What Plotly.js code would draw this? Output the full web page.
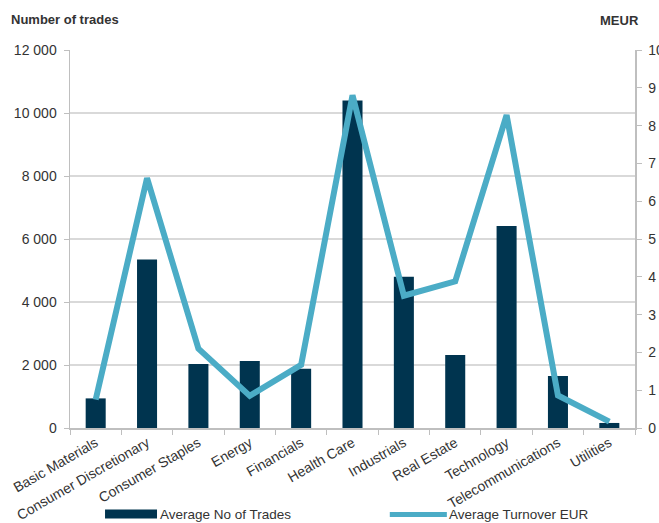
<!DOCTYPE html>
<html>
<head>
<meta charset="utf-8">
<script src="https://cdn.plot.ly/plotly-3.0.1.min.js"></script>
<style>html,body{margin:0;padding:0;background:#fff;}#chart{width:659px;height:523px;}</style>
</head>
<body>
<div id="chart"></div>
<script>
const categories = ["Basic Materials","Consumer Discretionary","Consumer Staples","Energy","Financials","Health Care","Industrials","Real Estate","Technology","Telecommunications","Utilities"];
const avgTrades = [940, 5350, 2030, 2130, 1880, 10400, 4800, 2320, 6410, 1650, 160];
const avgTurnover = [0.75, 6.61, 2.10, 0.85, 1.67, 8.80, 3.50, 3.88, 8.28, 0.86, 0.17];
const leftTicks = [0, 2000, 4000, 6000, 8000, 10000, 12000];
const rightTicks = [0,1,2,3,4,5,6,7,8,9,10];
const seriesNames = ["Average No of Trades", "Average Turnover EUR"];

const barColor = "#00344F";
const lineColor = "#4BACC6";
const font = {family: "Liberation Sans, Arial, sans-serif", size: 13, color: "#333333"};
const data = [
  {type: "bar", x: categories, y: avgTrades, name: seriesNames[0],
   marker: {color: barColor, line: {width: 0}}, yaxis: "y", showlegend: false},
  {type: "scatter", mode: "lines", x: categories, y: avgTurnover, name: seriesNames[1],
   line: {color: lineColor, width: 6}, yaxis: "y2", showlegend: false}
];
const legendFont = {family: font.family, size: 13.5, color: "#333333"};
const layout = {
  width: 659, height: 523,
  margin: {l: 70, r: 24, t: 50, b: 95, autoexpand: false},
  paper_bgcolor: "#ffffff", plot_bgcolor: "#ffffff",
  font: font,
  separators: ", ",
  bargap: 0.61,
  showlegend: false,
  xaxis: {type: "category", tickangle: -30, showline: true, linecolor: "#BFBFBF", linewidth: 1.5,
          ticks: "outside", ticklen: 5, tickcolor: "#BFBFBF", tickson: "boundaries", automargin: false,
          showgrid: false, tickfont: {family: font.family, size: 14, color: "#333333"}},
  yaxis: {range: [0, 12000], tickvals: leftTicks, tickformat: ",d", showline: true, automargin: false,
          linecolor: "#BFBFBF", linewidth: 1.5, ticks: "outside", ticklen: 5, tickcolor: "#BFBFBF",
          showgrid: true, gridcolor: "#D9D9D9", gridwidth: 1.5, zeroline: false,
          ticklabelstandoff: 4,
          tickfont: {family: font.family, size: 14, color: "#333333"}},
  yaxis2: {range: [0, 10], tickvals: rightTicks, overlaying: "y", side: "right", showline: true, automargin: false,
           linecolor: "#BFBFBF", linewidth: 1.5, ticks: "outside", ticklen: 5, tickcolor: "#BFBFBF",
           showgrid: false, zeroline: false, ticklabelstandoff: 4,
           tickfont: {family: font.family, size: 14, color: "#333333"}},
  shapes: [
    {type: "rect", xref: "paper", yref: "paper", x0: 0.062, x1: 0.154, y0: -0.2394, y1: -0.2156,
     fillcolor: barColor, line: {width: 0}},
    {type: "line", xref: "paper", yref: "paper", x0: 0.566, x1: 0.667, y0: -0.2288, y1: -0.2288,
     line: {color: lineColor, width: 5}}
  ],
  annotations: [
    {text: "<b>Number of trades</b>", xref: "paper", yref: "paper", x: -0.108, y: 1.082,
     xanchor: "left", yanchor: "middle", showarrow: false,
     font: {family: font.family, size: 13, color: "#333333"}},
    {text: "<b>MEUR</b>", xref: "paper", yref: "paper", x: 0.973, y: 1.077,
     xanchor: "center", yanchor: "middle", showarrow: false,
     font: {family: font.family, size: 13, color: "#333333"}},
    {text: seriesNames[0], xref: "paper", yref: "paper", x: 0.156, y: -0.2288,
     xanchor: "left", yanchor: "middle", showarrow: false, font: legendFont},
    {text: seriesNames[1], xref: "paper", yref: "paper", x: 0.667, y: -0.2288,
     xanchor: "left", yanchor: "middle", showarrow: false, font: legendFont}
  ]
};
Plotly.newPlot("chart", data, layout, {displayModeBar: false, staticPlot: true});
</script>
</body>
</html>
